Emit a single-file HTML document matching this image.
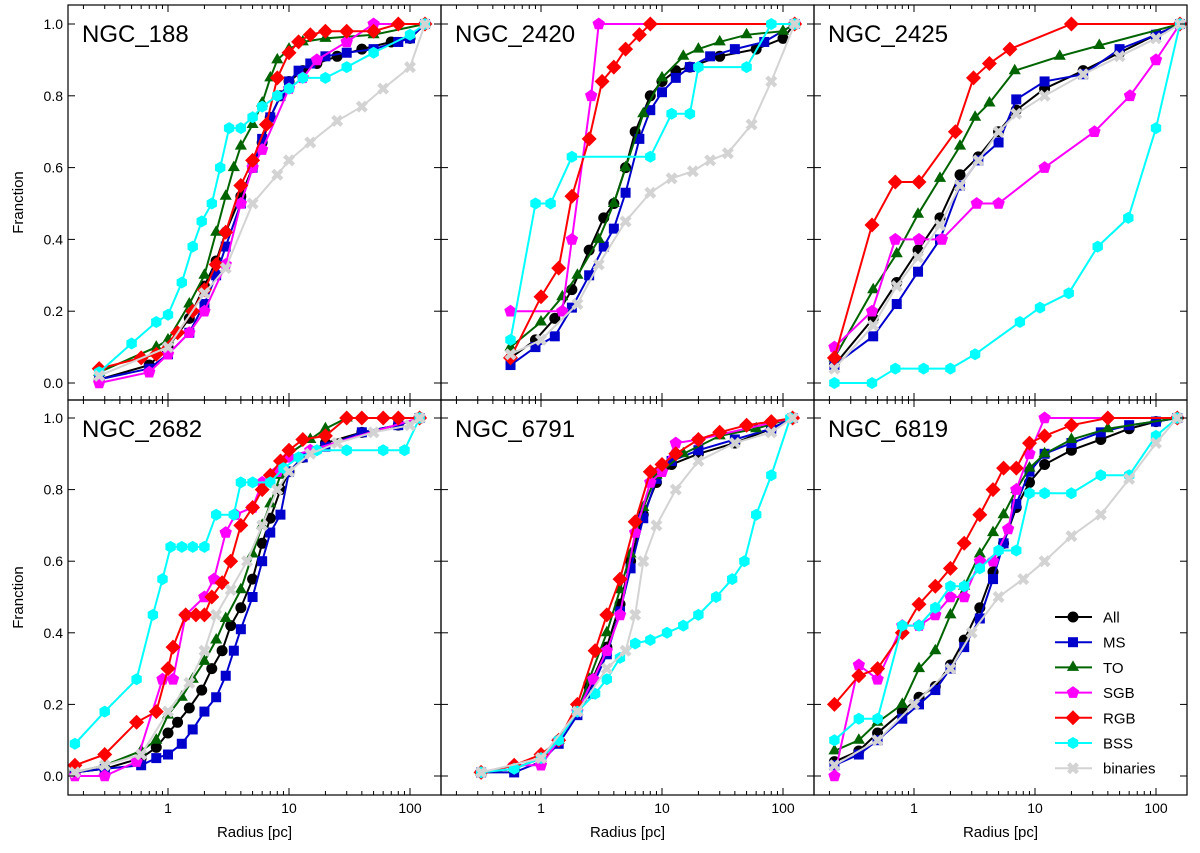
<!DOCTYPE html>
<html><head><meta charset="utf-8"><style>
body{margin:0;background:#fff;}
svg text{font-family:"Liberation Sans",sans-serif;}
</style></head><body>
<svg id="chart" width="1200" height="848" xmlns="http://www.w3.org/2000/svg"></svg>
<script>
const panelNames = ["NGC_188","NGC_2420","NGC_2425","NGC_2682","NGC_6791","NGC_6819"];
const seriesNames = ["All","MS","TO","SGB","RGB","BSS","binaries"];
const xTickLabels = ["1","10","100"];
const yTickLabels = ["0.0","0.2","0.4","0.6","0.8","1.0"];

const ngc188_All=[[0.27,0.01],[0.7,0.05],[1,0.1],[1.5,0.18],[2,0.27],[2.5,0.34],[3,0.42],[4,0.52],[5,0.6],[6,0.67],[7,0.74],[8.5,0.8],[10,0.84],[13,0.87],[17,0.89],[25,0.91],[40,0.93],[70,0.95],[100,0.96],[133,1]];
const ngc188_MS=[[0.27,0.01],[0.7,0.04],[1,0.08],[1.5,0.14],[2,0.22],[2.5,0.3],[3,0.38],[4,0.5],[5,0.6],[6,0.68],[7,0.74],[8.5,0.8],[10,0.84],[12,0.87],[15,0.89],[20,0.91],[30,0.92],[50,0.93],[80,0.95],[100,0.96],[133,1]];
const ngc188_TO=[[0.27,0.03],[0.8,0.1],[1,0.12],[1.5,0.22],[2,0.3],[2.5,0.42],[3,0.52],[3.5,0.6],[4,0.66],[5,0.72],[6,0.78],[7,0.85],[8,0.9],[10,0.93],[13,0.95],[20,0.96],[50,0.97],[133,1]];
const ngc188_SGB=[[0.27,0],[0.7,0.03],[1,0.08],[1.5,0.14],[2,0.2],[3,0.33],[4,0.5],[5,0.6],[6,0.65],[10,0.82],[13,0.85],[17,0.9],[30,0.95],[50,1],[133,1]];
const ngc188_RGB=[[0.27,0.04],[0.6,0.07],[0.8,0.08],[1.2,0.14],[1.6,0.2],[2,0.26],[2.5,0.33],[3,0.42],[4,0.55],[5,0.62],[6.5,0.72],[8,0.85],[10,0.92],[12,0.95],[15,0.97],[20,0.98],[30,0.98],[50,0.98],[80,1],[133,1]];
const ngc188_BSS=[[0.27,0.03],[0.5,0.11],[0.8,0.17],[1,0.19],[1.3,0.28],[1.6,0.38],[1.9,0.45],[2.3,0.5],[2.7,0.6],[3.2,0.71],[4,0.71],[5,0.74],[6,0.77],[8,0.8],[10,0.82],[13,0.85],[20,0.85],[30,0.88],[50,0.92],[100,0.97],[133,1]];
const ngc188_binaries=[[0.27,0.02],[1,0.1],[2,0.25],[3,0.32],[5,0.5],[8,0.58],[10,0.62],[15,0.67],[25,0.73],[40,0.77],[60,0.82],[100,0.88],[133,1]];

const ngc2420_All=[[0.56,0.07],[0.9,0.12],[1.3,0.18],[1.8,0.26],[2.5,0.37],[3.3,0.46],[4,0.5],[5,0.6],[6,0.7],[8,0.8],[10,0.84],[13,0.87],[17,0.88],[30,0.91],[60,0.93],[100,0.96],[125,1]];
const ngc2420_MS=[[0.56,0.05],[0.9,0.1],[1.3,0.13],[1.8,0.21],[2.5,0.3],[3.3,0.38],[4,0.43],[5,0.53],[6.5,0.68],[8,0.76],[10,0.81],[13,0.85],[17,0.88],[25,0.91],[40,0.93],[70,0.95],[125,1]];
const ngc2420_TO=[[0.56,0.1],[1,0.17],[1.5,0.24],[2,0.3],[3,0.4],[4,0.5],[5,0.6],[7,0.75],[10,0.85],[15,0.91],[20,0.93],[30,0.95],[50,0.97],[100,0.98],[125,1]];
const ngc2420_SGB=[[0.56,0.2],[1.5,0.2],[1.8,0.4],[2.6,0.8],[3,1],[125,1]];
const ngc2420_RGB=[[0.56,0.07],[1,0.24],[1.4,0.32],[1.8,0.52],[2.5,0.68],[3.2,0.84],[4,0.88],[5,0.93],[6.5,0.97],[8,1],[125,1]];
const ngc2420_BSS=[[0.56,0.12],[0.9,0.5],[1.2,0.5],[1.8,0.63],[8,0.63],[12,0.75],[17,0.75],[20,0.88],[50,0.88],[80,1],[125,1]];
const ngc2420_binaries=[[0.56,0.08],[1,0.12],[2,0.22],[3,0.33],[5,0.45],[8,0.53],[12,0.57],[18,0.59],[25,0.62],[35,0.64],[55,0.72],[80,0.84],[125,1]];

const ngc2425_All=[[0.22,0.05],[0.46,0.18],[0.72,0.28],[1.08,0.37],[1.64,0.46],[2.4,0.58],[3.4,0.63],[5,0.7],[7,0.76],[12,0.82],[25,0.87],[50,0.92],[100,0.97],[158,1]];
const ngc2425_MS=[[0.22,0.05],[0.46,0.13],[0.72,0.22],[1.08,0.31],[1.64,0.4],[2.4,0.55],[3.4,0.62],[5,0.67],[7,0.79],[12,0.84],[25,0.86],[50,0.93],[100,0.97],[158,1]];
const ngc2425_TO=[[0.22,0.07],[0.46,0.26],[0.72,0.36],[1.08,0.47],[1.64,0.57],[2.4,0.66],[3.2,0.74],[4.2,0.78],[6.8,0.87],[16,0.91],[34,0.94],[158,1]];
const ngc2425_SGB=[[0.22,0.1],[0.45,0.2],[0.7,0.4],[1.1,0.4],[1.7,0.4],[3.3,0.5],[5,0.5],[12,0.6],[31,0.7],[61,0.8],[100,0.9],[158,1]];
const ngc2425_RGB=[[0.22,0.07],[0.45,0.44],[0.7,0.56],[1.1,0.56],[2.2,0.7],[3.1,0.85],[4.2,0.89],[6.2,0.93],[20,1],[158,1]];
const ngc2425_BSS=[[0.22,0],[0.45,0],[0.7,0.04],[1.2,0.04],[2,0.04],[3.2,0.08],[7.5,0.17],[11,0.21],[19,0.25],[33,0.38],[59,0.46],[100,0.71],[158,1]];
const ngc2425_binaries=[[0.22,0.04],[0.46,0.16],[0.72,0.27],[1.08,0.35],[1.64,0.44],[2.4,0.55],[3.4,0.62],[5,0.7],[7,0.75],[12,0.8],[25,0.86],[50,0.91],[100,0.96],[158,1]];

const ngc2682_All=[[0.17,0.01],[0.3,0.02],[0.6,0.05],[0.8,0.08],[1,0.12],[1.2,0.15],[1.5,0.19],[1.9,0.24],[2.3,0.3],[2.8,0.35],[3.3,0.42],[4,0.47],[5,0.55],[6,0.65],[7,0.72],[8.5,0.8],[10,0.85],[13,0.89],[20,0.93],[40,0.96],[80,0.98],[120,1]];
const ngc2682_MS=[[0.17,0.01],[0.3,0.02],[0.6,0.03],[0.8,0.05],[1,0.06],[1.3,0.09],[1.6,0.13],[2,0.18],[2.5,0.22],[3,0.28],[3.5,0.35],[4,0.41],[5,0.5],[6,0.6],[7,0.68],[8.5,0.73],[10,0.85],[13,0.89],[20,0.92],[40,0.96],[80,0.98],[120,1]];
const ngc2682_TO=[[0.17,0.01],[0.3,0.03],[0.6,0.07],[0.8,0.1],[1,0.17],[1.3,0.22],[1.6,0.27],[2,0.32],[2.5,0.38],[3,0.44],[4,0.52],[5,0.62],[6,0.7],[7,0.76],[8.5,0.84],[10,0.9],[15,0.94],[20,0.97],[30,1],[120,1]];
const ngc2682_SGB=[[0.17,0],[0.3,0],[0.55,0.04],[0.9,0.27],[1.1,0.27],[1.4,0.45],[2,0.5],[2.4,0.55],[3,0.68],[3.6,0.73],[5,0.75],[6,0.82],[8,0.85],[10,0.89],[15,0.91],[120,1]];
const ngc2682_RGB=[[0.17,0.03],[0.3,0.06],[0.55,0.15],[0.8,0.18],[1,0.3],[1.1,0.36],[1.4,0.45],[1.7,0.45],[2,0.45],[2.3,0.5],[2.8,0.54],[3.3,0.6],[4,0.7],[5,0.75],[6,0.8],[7,0.84],[8.5,0.88],[10,0.91],[13,0.94],[20,0.95],[30,1],[40,1],[60,1],[80,1],[120,1]];
const ngc2682_BSS=[[0.17,0.09],[0.3,0.18],[0.55,0.27],[0.75,0.45],[0.9,0.55],[1.05,0.64],[1.3,0.64],[1.6,0.64],[2,0.64],[2.5,0.73],[3.5,0.73],[4,0.82],[5,0.82],[7,0.82],[9,0.86],[12,0.89],[17,0.91],[30,0.91],[60,0.91],[90,0.91],[120,1]];
const ngc2682_binaries=[[0.17,0.01],[0.3,0.03],[0.6,0.06],[1,0.18],[1.5,0.26],[2,0.35],[2.5,0.45],[3.3,0.52],[4.5,0.6],[6,0.7],[8,0.8],[10,0.85],[15,0.9],[25,0.93],[50,0.96],[100,0.98],[120,1]];

const ngc6791_All=[[0.32,0.01],[0.6,0.02],[1,0.05],[1.4,0.1],[2,0.19],[2.5,0.25],[3.5,0.36],[4.5,0.48],[5.5,0.6],[7,0.73],[9,0.82],[12,0.87],[20,0.9],[40,0.93],[80,0.97],[120,1]];
const ngc6791_MS=[[0.32,0.01],[0.6,0.01],[1,0.04],[1.4,0.09],[2,0.17],[2.5,0.23],[3.5,0.34],[4.5,0.46],[5.5,0.58],[7,0.72],[9,0.83],[12,0.88],[20,0.91],[40,0.94],[80,0.97],[120,1]];
const ngc6791_TO=[[0.32,0.01],[0.6,0.02],[1,0.05],[1.4,0.1],[2,0.18],[2.5,0.27],[3.5,0.4],[4.5,0.52],[5.5,0.62],[7,0.75],[9,0.84],[15,0.9],[30,0.95],[60,0.97],[120,1]];
const ngc6791_SGB=[[0.32,0.01],[0.6,0.03],[1,0.03],[1.4,0.1],[2,0.18],[2.7,0.27],[3.5,0.35],[4.5,0.45],[6,0.68],[8,0.82],[10,0.85],[13,0.93],[20,0.94],[120,1]];
const ngc6791_RGB=[[0.32,0.01],[0.6,0.03],[1,0.06],[1.4,0.1],[2,0.2],[2.8,0.35],[3.5,0.45],[4.5,0.55],[6,0.71],[8,0.85],[10,0.87],[13,0.9],[20,0.94],[30,0.96],[50,0.98],[80,0.99],[120,1]];
const ngc6791_BSS=[[0.32,0.01],[0.6,0.02],[1,0.05],[1.4,0.1],[2,0.18],[2.8,0.23],[3.5,0.27],[4.5,0.33],[6,0.37],[8,0.38],[11,0.4],[15,0.42],[20,0.45],[28,0.5],[38,0.55],[48,0.6],[60,0.73],[80,0.84],[115,1]];
const ngc6791_binaries=[[0.32,0.01],[1,0.05],[2,0.18],[3.5,0.3],[5,0.35],[6,0.45],[7,0.6],[9,0.7],[13,0.8],[20,0.88],[40,0.93],[80,0.96],[120,1]];

const ngc6819_All=[[0.22,0.04],[0.35,0.07],[0.5,0.12],[0.8,0.18],[1.1,0.22],[1.5,0.25],[2,0.31],[2.6,0.38],[3.5,0.47],[4.5,0.57],[5.5,0.65],[7,0.75],[9,0.82],[12,0.87],[20,0.91],[35,0.94],[60,0.97],[100,0.99],[150,1]];
const ngc6819_MS=[[0.22,0.03],[0.35,0.06],[0.5,0.1],[0.8,0.16],[1.1,0.2],[1.5,0.24],[2,0.3],[2.6,0.36],[3.5,0.44],[4.5,0.55],[5.5,0.65],[7,0.76],[9,0.85],[12,0.9],[20,0.93],[35,0.96],[60,0.98],[100,0.99],[150,1]];
const ngc6819_TO=[[0.22,0.07],[0.35,0.1],[0.5,0.15],[0.8,0.2],[1.1,0.3],[1.5,0.35],[2,0.45],[2.6,0.53],[3.5,0.62],[4.5,0.68],[5.5,0.73],[7,0.8],[9,0.86],[12,0.9],[20,0.94],[40,0.97],[150,1]];
const ngc6819_SGB=[[0.22,0],[0.35,0.31],[0.5,0.27],[0.8,0.42],[1.1,0.42],[1.5,0.45],[2,0.5],[2.6,0.5],[3.5,0.6],[4.5,0.6],[6,0.69],[7,0.8],[9,0.9],[12,1],[150,1]];
const ngc6819_RGB=[[0.22,0.2],[0.35,0.28],[0.5,0.3],[0.8,0.4],[1.1,0.48],[1.5,0.53],[2,0.58],[2.6,0.65],[3.5,0.73],[4.5,0.8],[5.5,0.86],[7,0.86],[9,0.93],[12,0.95],[20,0.98],[40,1],[150,1]];
const ngc6819_BSS=[[0.22,0.1],[0.35,0.16],[0.5,0.16],[0.8,0.42],[1.1,0.42],[1.5,0.47],[2,0.53],[2.6,0.53],[3.5,0.58],[5,0.63],[7,0.63],[9,0.79],[12,0.79],[20,0.79],[35,0.84],[60,0.84],[100,0.95],[150,1]];
const ngc6819_binaries=[[0.22,0.03],[0.5,0.1],[1,0.2],[2,0.3],[3,0.4],[5,0.5],[8,0.55],[12,0.6],[20,0.67],[35,0.73],[60,0.83],[100,0.93],[150,1]];

const panelData=[
 [ngc188_All,ngc188_MS,ngc188_TO,ngc188_SGB,ngc188_RGB,ngc188_BSS,ngc188_binaries],
 [ngc2420_All,ngc2420_MS,ngc2420_TO,ngc2420_SGB,ngc2420_RGB,ngc2420_BSS,ngc2420_binaries],
 [ngc2425_All,ngc2425_MS,ngc2425_TO,ngc2425_SGB,ngc2425_RGB,ngc2425_BSS,ngc2425_binaries],
 [ngc2682_All,ngc2682_MS,ngc2682_TO,ngc2682_SGB,ngc2682_RGB,ngc2682_BSS,ngc2682_binaries],
 [ngc6791_All,ngc6791_MS,ngc6791_TO,ngc6791_SGB,ngc6791_RGB,ngc6791_BSS,ngc6791_binaries],
 [ngc6819_All,ngc6819_MS,ngc6819_TO,ngc6819_SGB,ngc6819_RGB,ngc6819_BSS,ngc6819_binaries]
];

const colors=["#000000","#0000cd","#006400","#ff00ff","#ff0000","#00ffff","#d3d3d3"];
const shapes=["circle","square","triangle","pentagon","diamond","hexagon","x"];
const NS="http://www.w3.org/2000/svg";
const svg=document.getElementById("chart");
function el(tag,attrs,parent){const e=document.createElementNS(NS,tag);for(const k in attrs)e.setAttribute(k,attrs[k]);(parent||svg).appendChild(e);return e;}

const PW=373, X0=68, rows=[[5,400],[400,795]];
function xScale(p){const c=p%3;const one=168+c*373;return r=>one+121*Math.log10(r);}
function yScale(p){const r=Math.floor(p/3);const zero=r===0?383:776;const one=r===0?24:418;return f=>zero+(one-zero)*f;}

function markerPath(s,x,y){
 const pts=(n,R,rot)=>{let a=[];for(let i=0;i<n;i++){const t=rot+i*2*Math.PI/n;a.push((x+R*Math.cos(t)).toFixed(1)+","+(y+R*Math.sin(t)).toFixed(1));}return "M"+a.join("L")+"Z";};
 if(s==="square")return `M${x-5},${y-5}h10v10h-10Z`;
 if(s==="triangle")return pts(3,7,-Math.PI/2);
 if(s==="pentagon")return pts(5,6.5,-Math.PI/2);
 if(s==="diamond")return pts(4,7.5,-Math.PI/2);
 if(s==="hexagon")return pts(6,6,-Math.PI/2);
 if(s==="x"){const a=6,b=3;return `M${x-a},${y-a+b}L${x-b},${y}L${x-a},${y+a-b}L${x-a+b},${y+a}L${x},${y+b}L${x+a-b},${y+a}L${x+a},${y+a-b}L${x+b},${y}L${x+a},${y-a+b}L${x+a-b},${y-a}L${x},${y-b}L${x-a+b},${y-a}Z`;}
 return null;
}
function drawMarker(g,s,x,y,c){
 if(s==="circle"){const m=el("circle",{cx:x,cy:y,r:5.5,fill:c},g);return m;}
 return el("path",{d:markerPath(s,x,y),fill:c},g);
}

for(let p=0;p<6;p++){
 const c=p%3, r=Math.floor(p/3);
 const left=X0+c*PW, top=rows[r][0], bottom=rows[r][1], right=left+PW;
 const xs=xScale(p), ys=yScale(p);
 const g=el("g",{});
 
 
 const cid="clip"+p;
 const cp=el("clipPath",{id:cid},g);el("rect",{x:left,y:top,width:PW,height:bottom-top},cp);
 const plot=el("g",{"clip-path":`url(#${cid})`},g);
 panelData[p].forEach((data,si)=>{
  const sg=el("g",{},plot);
  
  
  el("polyline",{points:data.map(d=>xs(d[0]).toFixed(1)+","+ys(d[1]).toFixed(1)).join(" "),fill:"none",stroke:colors[si],"stroke-width":2},sg);
  data.forEach(d=>{const m=drawMarker(sg,shapes[si],xs(d[0]),ys(d[1]),colors[si]);
   
   });
 });
 const tg=el("g",{stroke:"#000","stroke-width":1},g);
 for(let e=-1;e<=2;e++)for(let k=1;k<10;k++){
  const v=k*Math.pow(10,e);const x=xs(v);if(x<left+1||x>right-1)continue;
  const L=k===1?7:4;
  el("line",{x1:x,y1:bottom,x2:x,y2:bottom-L},tg);el("line",{x1:x,y1:top,x2:x,y2:top+L},tg);
 }
 yTickLabels.forEach((t,i)=>{const y=ys(i*0.2);
  el("line",{x1:left,y1:y,x2:left+7,y2:y},tg);el("line",{x1:right,y1:y,x2:right-7,y2:y},tg);
  if(c===0){const tt=el("text",{x:left-5,y:y+5,"text-anchor":"end","font-size":14},g);tt.textContent=t;
   }
 });
 if(r===1){xTickLabels.forEach((t,i)=>{const tt=el("text",{x:xs(Math.pow(10,i)),y:bottom+18,"text-anchor":"middle","font-size":14},g);tt.textContent=t;
   });
  const xl=el("text",{x:left+PW/2,y:bottom+42,"text-anchor":"middle","font-size":15},g);xl.textContent="Radius [pc]";
  }
 if(c===0){const yl=el("text",{x:0,y:0,transform:`translate(23,${(top+bottom)/2}) rotate(-90)`,"text-anchor":"middle","font-size":15},g);yl.textContent="Franction";
  }
 const ttl=el("text",{x:left+14,y:top+37,"font-size":24},g);ttl.textContent=panelNames[p];
 
 el("rect",{x:left,y:top,width:PW,height:bottom-top,fill:"none",stroke:"#000","stroke-width":1.2},g);
}
const lg=el("g",{});


seriesNames.forEach((n,i)=>{
 const y=617+i*25.2;
 const eg=el("g",{},lg);
 
 
 el("line",{x1:1055,y1:y,x2:1092,y2:y,stroke:colors[i],"stroke-width":2},eg);
 drawMarker(eg,shapes[i],1073,y,colors[i]);
 const t=el("text",{x:1103,y:y+5.5,"font-size":15},eg);t.textContent=n;
});
</script>
</body></html>
